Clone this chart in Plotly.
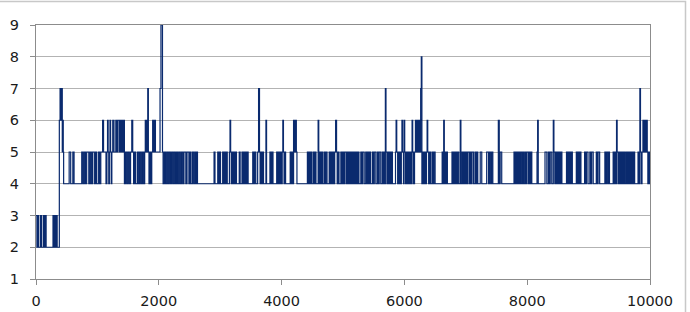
import plotly.graph_objects as go

# Step series: (x where the value starts, value)
part_0_2000 = [
    (0, 3), (15, 2), (30, 3), (45, 2), (75, 3), (90, 2), (120, 3), (135, 2), (150, 3), (165, 2),
    (277, 3), (292, 2), (307, 3), (322, 2), (337, 3), (345, 2),
    (380, 6), (392, 7), (404, 6), (416, 7), (428, 5), (436, 6), (444, 5), (450, 4),
    (540, 5), (565, 4), (600, 5), (620, 4),
    (745, 5), (765, 4), (785, 5), (805, 4), (825, 5), (860, 4), (880, 5), (900, 4), (920, 5),
    (950, 4), (970, 5), (985, 4), (1015, 5), (1035, 4), (1055, 5),
    (1085, 6), (1100, 5),
    (1140, 4), (1155, 5), (1165, 6), (1175, 5), (1185, 4), (1195, 5), (1205, 6), (1215, 5),
    (1225, 4), (1235, 5), (1250, 6), (1270, 5), (1300, 6), (1315, 5), (1330, 6), (1355, 5),
    (1370, 6), (1385, 5), (1400, 6), (1415, 5), (1430, 6),
    (1440, 4), (1460, 5), (1480, 4), (1500, 5), (1520, 4), (1540, 5), (1560, 6), (1575, 5),
    (1590, 4), (1610, 5), (1625, 4), (1655, 5), (1675, 4), (1695, 5), (1715, 4), (1735, 5),
    (1755, 4), (1770, 5), (1780, 6), (1790, 5), (1800, 6), (1810, 5), (1820, 7), (1830, 5),
    (1840, 4), (1855, 5), (1870, 4), (1885, 5), (1900, 6), (1915, 5), (1930, 6), (1945, 5),
]
part_2000_4000 = [
    (2020, 7), (2035, 9), (2060, 5),
    (2070, 4), (2090, 5), (2110, 4), (2130, 5), (2150, 4), (2170, 5), (2190, 4), (2210, 5),
    (2230, 4), (2250, 5), (2270, 4), (2290, 5), (2310, 4), (2330, 5), (2350, 4), (2370, 5),
    (2390, 4), (2410, 5), (2440, 4), (2460, 5), (2490, 4), (2510, 5), (2525, 4), (2550, 5),
    (2570, 4), (2590, 5), (2605, 4), (2620, 5), (2630, 4),
    (2900, 5), (2915, 4),
    (2960, 5), (2975, 4), (2990, 5), (3005, 4),
    (3040, 5), (3055, 4), (3070, 5), (3085, 4), (3100, 5), (3115, 4),
    (3150, 5), (3160, 6), (3170, 5), (3180, 4), (3195, 5), (3210, 4), (3225, 5), (3240, 4),
    (3255, 5), (3265, 4),
    (3310, 5), (3325, 4), (3355, 5), (3370, 4), (3385, 5), (3400, 4), (3415, 5), (3430, 4),
    (3445, 5), (3455, 4),
    (3530, 5), (3545, 4), (3560, 5), (3580, 4),
    (3610, 5), (3625, 7), (3640, 5), (3650, 4), (3665, 5), (3680, 4), (3695, 5), (3705, 4),
    (3745, 6), (3755, 4),
    (3810, 5), (3825, 4), (3840, 5), (3860, 4),
    (3920, 5), (3935, 4), (3950, 5), (3965, 4), (3980, 5), (3995, 4),
]
part_4000_6000 = [
    (4010, 5), (4020, 6), (4030, 5), (4040, 4), (4055, 5), (4065, 4),
    (4140, 5), (4155, 4), (4170, 5), (4185, 4), (4195, 6), (4210, 5), (4225, 6), (4240, 5),
    (4250, 4),
    (4420, 5), (4435, 4), (4450, 5), (4465, 4), (4480, 5), (4495, 4), (4520, 5), (4535, 4),
    (4550, 5), (4560, 4),
    (4595, 6), (4605, 4), (4620, 5), (4635, 4), (4650, 5), (4665, 4),
    (4690, 5), (4705, 4), (4720, 5), (4740, 4),
    (4775, 5), (4790, 4), (4805, 5), (4820, 4), (4835, 5), (4850, 4), (4865, 5), (4880, 6),
    (4895, 5), (4905, 4), (4920, 5), (4935, 4),
    (4965, 5), (4980, 4), (4995, 5), (5010, 4), (5025, 5), (5050, 4), (5065, 5), (5080, 4),
    (5095, 5), (5110, 4), (5125, 5), (5140, 4), (5155, 5), (5170, 4), (5185, 5), (5200, 4),
    (5215, 5), (5230, 4), (5245, 5), (5260, 4),
    (5290, 5), (5305, 4), (5320, 5), (5345, 4),
    (5370, 5), (5385, 4), (5400, 5), (5415, 4), (5430, 5), (5450, 4),
    (5480, 5), (5495, 4), (5510, 5), (5535, 4),
    (5560, 5), (5575, 4), (5590, 5), (5615, 4),
    (5640, 5), (5655, 4), (5670, 5), (5685, 4), (5690, 7), (5700, 5), (5715, 4), (5730, 5),
    (5745, 4), (5760, 5), (5775, 4), (5790, 5), (5805, 4),
    (5855, 5), (5865, 6), (5875, 5), (5890, 4), (5905, 5), (5920, 4), (5935, 5), (5940, 4),
    (5950, 5), (5960, 6), (5970, 5), (5985, 4), (5995, 6),
]
part_6000_8000 = [
    (6005, 5), (6020, 4), (6035, 5), (6050, 4), (6065, 5), (6075, 4),
    (6095, 5), (6110, 4), (6125, 6), (6135, 5), (6150, 4), (6165, 5), (6180, 6), (6195, 5),
    (6210, 6), (6225, 5), (6240, 6), (6255, 5), (6265, 7), (6275, 8), (6285, 4),
    (6300, 5), (6315, 4), (6330, 5), (6345, 4), (6360, 5), (6370, 6), (6380, 5), (6395, 4),
    (6410, 5), (6425, 4), (6450, 5), (6465, 4), (6480, 5), (6500, 4),
    (6615, 5), (6630, 4), (6640, 6), (6650, 4), (6665, 5), (6680, 4), (6690, 5), (6700, 4),
    (6775, 5), (6790, 4), (6805, 5), (6820, 4), (6835, 5), (6850, 4), (6865, 5), (6885, 4),
    (6910, 6), (6920, 4), (6940, 5), (6955, 4), (6970, 5), (6985, 4), (7000, 5), (7015, 4),
    (7030, 5), (7055, 4), (7070, 5), (7085, 4), (7100, 5), (7125, 4),
    (7150, 5), (7165, 4), (7180, 5), (7195, 4),
    (7235, 5), (7260, 4),
    (7340, 5), (7370, 4),
    (7385, 5), (7405, 4),
    (7420, 5), (7440, 4),
    (7530, 6), (7545, 4), (7560, 5), (7585, 4),
    (7785, 5), (7800, 4), (7815, 5), (7830, 4), (7845, 5), (7860, 4), (7875, 5), (7890, 4),
    (7905, 5), (7925, 4), (7935, 5), (7945, 4),
    (7965, 5), (7980, 4), (7995, 5),
]
part_8000_10000 = [
    (8020, 4),
    (8035, 5), (8050, 4), (8060, 5), (8075, 4),
    (8160, 5), (8170, 6), (8180, 4),
    (8290, 5), (8320, 4),
    (8345, 5), (8360, 4), (8375, 5), (8400, 4),
    (8425, 6), (8435, 5), (8450, 4), (8465, 5), (8480, 4), (8495, 5), (8510, 4), (8525, 5),
    (8540, 4), (8555, 5), (8565, 4),
    (8640, 5), (8655, 4), (8670, 5), (8685, 4), (8700, 5), (8715, 4), (8730, 5), (8735, 4),
    (8800, 5), (8815, 4), (8830, 5), (8845, 4), (8860, 5), (8875, 4),
    (8935, 5), (8950, 4), (8965, 5), (8990, 4),
    (9020, 5), (9035, 4), (9050, 5), (9075, 4),
    (9125, 5), (9140, 4), (9155, 5), (9180, 4),
    (9265, 5), (9280, 4), (9295, 5), (9315, 4), (9330, 5), (9340, 4),
    (9400, 5), (9415, 4), (9430, 5), (9445, 4), (9455, 6), (9465, 5), (9480, 4), (9495, 5),
    (9510, 4), (9525, 5), (9540, 4), (9555, 5), (9570, 4), (9585, 5), (9595, 4),
    (9615, 5), (9630, 4), (9645, 5), (9660, 4), (9675, 5), (9690, 4), (9705, 5), (9720, 4),
    (9735, 5), (9750, 4),
    (9805, 5), (9820, 4), (9835, 7), (9845, 5), (9860, 4), (9870, 5), (9885, 6), (9900, 5),
    (9915, 6), (9930, 5), (9945, 6), (9955, 5), (9965, 4), (9975, 5), (9990, 4), (10000, 4),
]

x_ticks = [0, 2000, 4000, 6000, 8000, 10000]
x_tick_labels = ["0", "2000", "4000", "6000", "8000", "10000"]
y_ticks = [1, 2, 3, 4, 5, 6, 7, 8, 9]

points = part_0_2000 + part_2000_4000 + part_4000_6000 + part_6000_8000 + part_8000_10000
xs = [p[0] for p in points]
ys = [p[1] for p in points]

fig = go.Figure()
fig.add_trace(go.Scatter(
    x=xs, y=ys, mode="lines", line=dict(color="#0a2a6e", width=1.2, shape="hv"),
    hoverinfo="skip", showlegend=False,
))

# plot area: left 36px, right 650px, top 25px, bottom 279px
L, R, T, B = 36, 650, 25, 279
W, H = 690, 312
pw, ph = R - L, B - T

def px_x(px):
    return (px - L) / pw

def px_y(py):
    return (B - py) / ph

font = dict(family="DejaVu Sans", size=14.5, color="#1a1a1a")
fig.update_layout(
    width=W, height=H,
    margin=dict(l=L, r=W - R, t=T, b=H - B, pad=0, autoexpand=False),
    paper_bgcolor="white", plot_bgcolor="white",
    font=font,
    xaxis=dict(
        range=[0, 10000], tickvals=x_ticks, ticktext=x_tick_labels,
        ticks="outside", ticklen=5, tickcolor="#8c8c8c",
        showgrid=False, zeroline=False, showline=True, linecolor="#8c8c8c", linewidth=1,
        mirror=True, tickfont=font, ticklabelstandoff=4, automargin=False,
    ),
    yaxis=dict(
        range=[1, 9], tickvals=y_ticks, ticks="outside", ticklen=5, tickcolor="#8c8c8c",
        showgrid=True, gridcolor="#b3b3b3", gridwidth=1, zeroline=False,
        showline=True, linecolor="#8c8c8c", linewidth=1, mirror=True, tickfont=font,
        ticklabelstandoff=8, automargin=False,
    ),
    shapes=[dict(
        type="rect", xref="paper", yref="paper",
        x0=px_x(-2), x1=px_x(685.5), y0=px_y(320), y1=px_y(1.5),
        line=dict(color="#c8c8c8", width=1.5), fillcolor="rgba(0,0,0,0)", layer="below",
    )],
)

fig.write_html("out.html")
